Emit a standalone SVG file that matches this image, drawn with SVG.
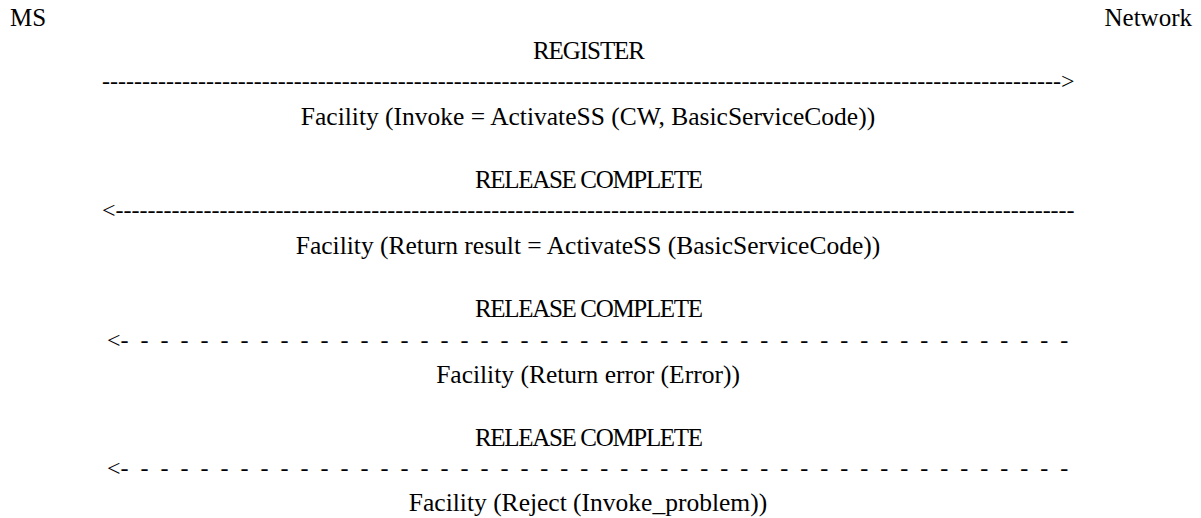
<svg xmlns="http://www.w3.org/2000/svg" width="1201" height="518" viewBox="0 0 1201 518">
<style>
text{font-family:"Liberation Serif","Times New Roman",serif;font-size:25px;fill:#000}
.c{text-anchor:middle}
.f{font-size:25.5px}
.d{font-size:24px}
.pre{white-space:pre}
</style>
<rect width="1201" height="518" fill="#fff"/>
<g id="ms"><text x="10" y="26">MS</text></g>
<g id="network"><text x="1192" y="26" text-anchor="end">Network</text></g>
<g id="connectors">
<text class="d" x="102" y="88.5">------------------------------------------------------------------------------------------------------------------------&gt;</text>
<text class="d" x="102" y="217.5">&lt;------------------------------------------------------------------------------------------------------------------------</text>
<text class="d pre" x="107" y="347.5" xml:space="preserve">&lt;-  -  -  -  -  -  -  -  -  -  -  -  -  -  -  -  -  -  -  -  -  -  -  -  -  -  -  -  -  -  -  -  -  -  -  -  -  -  -  -  -  -  -  -  -  -  -  -</text>
<text class="d pre" x="107" y="475.5" xml:space="preserve">&lt;-  -  -  -  -  -  -  -  -  -  -  -  -  -  -  -  -  -  -  -  -  -  -  -  -  -  -  -  -  -  -  -  -  -  -  -  -  -  -  -  -  -  -  -  -  -  -  -</text>
</g>
<g id="msg1">
<text class="c" x="589" y="58.5" textLength="112" lengthAdjust="spacing">REGISTER</text>
<text class="c f" x="588" y="125">Facility (Invoke = ActivateSS (CW, BasicServiceCode))</text>
</g>
<g id="msg2">
<text class="c" x="589" y="188" textLength="228" lengthAdjust="spacing">RELEASE COMPLETE</text>
<text class="c f" x="588" y="253.5">Facility (Return result = ActivateSS (BasicServiceCode))</text>
</g>
<g id="msg3">
<text class="c" x="589" y="317" textLength="228" lengthAdjust="spacing">RELEASE COMPLETE</text>
<text class="c f" x="588" y="382.5">Facility (Return error (Error))</text>
</g>
<g id="msg4">
<text class="c" x="589" y="446" textLength="228" lengthAdjust="spacing">RELEASE COMPLETE</text>
<text class="c f" x="588" y="510.5">Facility (Reject (Invoke_problem))</text>
</g>
</svg>
